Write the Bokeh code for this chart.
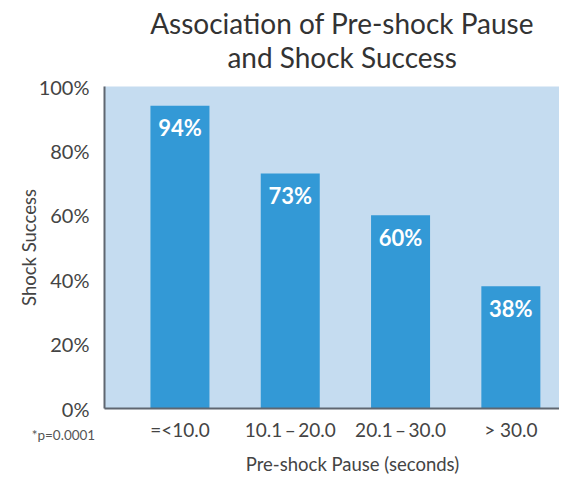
from bokeh.plotting import figure
from bokeh.models import Range1d, FixedTicker, PrintfTickFormatter, Label, ColumnDataSource
from bokeh.core.properties import value
from bokeh.embed import file_html
from bokeh.resources import INLINE

title_lines = ["Association of Pre-shock Pause", "and Shock Success"]
categories = ["=<10.0", "10.1\u2009\u2013\u200920.0", "20.1\u2009\u2013\u200930.0", "> 30.0"]
success = [94, 73, 60, 38]
bar_labels = ["94%", "73%", "60%", "38%"]
y_ticks = [0, 20, 40, 60, 80, 100]
x_title = "Pre-shock Pause (seconds)"
y_title = "Shock Success"
note = "*p=0.0001"

FONT = "Lato"
xs = list(range(len(categories)))
src = ColumnDataSource(dict(x=xs, top=success, lab=bar_labels))

p = figure(frame_width=455, frame_height=322, output_backend="svg", toolbar_location=None,
           x_range=Range1d(-0.684, 3.441), y_range=Range1d(0, 100),
           min_border_left=104, min_border_right=0, min_border_top=86, min_border_bottom=66)
p.background_fill_color = "#c5dcf0"
p.border_fill_color = "white"
p.outline_line_color = None
p.xgrid.visible = False
p.ygrid.visible = False
p.title.visible = False

# Title lines (in the "above" panel so they are not clipped to the frame)
for txt, ty in zip(title_lines, [119.6, 109.3]):
    p.add_layout(Label(x=1.47, y=ty, text=txt, text_align="center", text_baseline="middle",
                       text_font=FONT, text_font_size="28px", text_color="#333333"), "above")

p.vbar(x="x", top="top", width=0.535, source=src, color="#3399d6", line_color=None)
p.text(x="x", y="top", text="lab", source=src, text_align="center", text_baseline="middle",
       y_offset=22, text_color="white", text_font=value(FONT), text_font_style="bold",
       text_font_size="22px")

for ax in (p.xaxis[0], p.yaxis[0]):
    ax.axis_line_color = "#5f6670"
    ax.axis_line_width = 2
    ax.major_tick_line_color = None
    ax.minor_tick_line_color = None
    ax.major_label_text_font = FONT
    ax.major_label_text_color = "#444444"
    ax.axis_label_text_font = FONT
    ax.axis_label_text_font_style = "normal"
    ax.axis_label_text_font_size = "18.5px"
    ax.axis_label_text_color = "#444444"

p.xaxis.ticker = FixedTicker(ticks=xs)
p.xaxis.major_label_overrides = {i: c for i, c in zip(xs, categories)}
p.xaxis.major_label_text_font_size = "19px"
p.xaxis.major_label_standoff = 3

p.yaxis.ticker = FixedTicker(ticks=y_ticks)
p.yaxis.formatter = PrintfTickFormatter(format="%d%%")
p.yaxis.major_label_text_font_size = "20px"
p.yaxis.major_label_standoff = 9
p.yaxis.axis_label = y_title
p.yaxis.axis_label_standoff = -4

# x-axis title, placed slightly right of the frame centre as in the reference
p.add_layout(Label(x=1.564, y=-17.1, text=x_title, text_align="center", text_baseline="middle",
                   text_font=FONT, text_font_size="18.5px", text_color="#444444"), "below")

p.add_layout(Label(x=-1.056, y=-8.2, text=note,
                   text_align="center", text_baseline="middle",
                   text_font=FONT, text_font_size="13.5px", text_color="#555555"), "above")

open("out.html", "w").write(file_html(p, INLINE))
